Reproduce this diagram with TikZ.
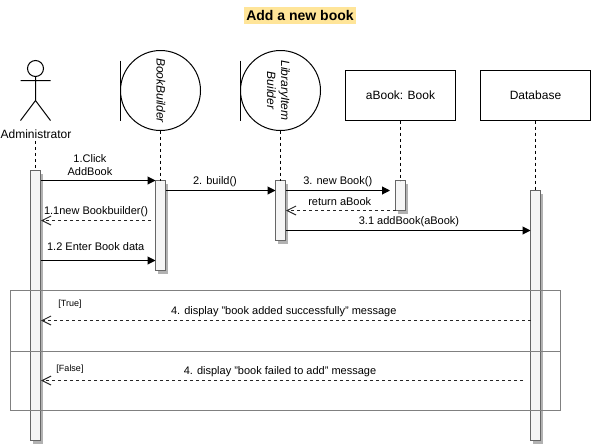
\documentclass[tikz,border=0pt]{standalone}
\usepackage{fontspec}
\setmainfont{Liberation Sans}
\usetikzlibrary{arrows.meta,shadows}
\definecolor{barfill}{HTML}{F5F5F5}
\definecolor{barline}{HTML}{666666}
\definecolor{titlebg}{HTML}{FFE599}
\definecolor{framecol}{HTML}{808080}
\tikzset{
  boundary/.style={circle,draw,minimum size=80pt,inner sep=0pt,outer sep=0pt},
  classbox/.style={rectangle,draw,minimum width=110pt,minimum height=50pt,outer sep=0pt,font=\fontsize{12}{14}\selectfont},
  bar/.style={rectangle,draw=barline,fill=barfill,minimum width=10pt,minimum height=#1,inner sep=0pt,outer sep=0pt,anchor=north,
    drop shadow={shadow xshift=2pt,shadow yshift=-3pt,fill=black!30,opacity=1}},
  lifeline/.style={dash pattern=on 3pt off 3pt},
  msg/.style={-{Triangle[length=8pt,width=8pt]}},
  reply/.style={-{Straight Barb[length=9pt,width=9pt]},dash pattern=on 3pt off 3pt,color=black!85},
  msgtext/.style={font=\fontsize{11}{13}\selectfont,inner sep=3pt,align=center,above},
  guard/.style={font=\fontsize{9}{11}\selectfont,inner sep=0pt},
  frag/.style={rectangle,draw=framecol,minimum width=550pt,inner sep=0pt,outer sep=0pt,anchor=north west}
}
\begin{document}
\begin{tikzpicture}[x=1pt,y=-1pt,line width=1pt]
   \useasboundingbox (0,0) rectangle (592,445);
   \node[fill=titlebg,minimum width=112pt,minimum height=17pt,inner sep=0pt,font=\fontsize{14}{16}\selectfont\bfseries] (title) at (300,15.5) {Add a new book};

   % lifeline heads
   \node[circle,draw,minimum size=16pt,inner sep=0pt,outer sep=0pt] (head) at (35.5,68.5) {};
   \coordinate (hip) at (35.5,100.5);
   \coordinate (armL) at (20.5,80.5);
   \coordinate (armR) at (50.5,80.5);
   \coordinate (footL) at (20.5,120.5);
   \coordinate (footR) at (50.5,120.5);
   \draw (head.south) -- (hip) (armL) -- (armR) (footL) -- (hip) -- (footR);
   \node[font=\fontsize{12}{14}\selectfont,inner sep=0pt] (admin) at (36,134) {Administrator};

   \node[boundary] (builder) at (160.5,90.5) {};
   \node[rotate=-90,align=center,inner sep=0pt,font=\fontsize{12}{14}\selectfont\itshape] (buildertext) at (161,90.5) {BookBuilder};
   \coordinate (builderT) at (120.5,60.5);
   \coordinate (builderB) at (120.5,120.5);
   \draw (builderT) -- (builderB);

   \node[boundary] (item) at (280.5,90.5) {};
   \node[rotate=-90,align=center,inner sep=0pt,font=\fontsize{12}{14}\selectfont\itshape] (itemtext) at (278.5,90.5) {LibraryItem\\Builder};
   \coordinate (itemT) at (240.5,60.5);
   \coordinate (itemB) at (240.5,120.5);
   \draw (itemT) -- (itemB);

   \node[classbox] (book) at (400.5,95.5) {aBook: Book};
   \node[classbox] (db) at (535.5,95.5) {Database};

   % activation bars
   \node[bar=270pt] (adminbar) at (35.5,170.5) {};
   \node[bar=90pt] (builderbar) at (160.5,180.5) {};
   \node[bar=60pt] (itembar) at (280.5,180.5) {};
   \node[bar=30pt] (bookbar) at (400.5,180.5) {};
   \node[bar=250pt] (dbbar) at (535.5,190.5) {};

   \draw[lifeline] (admin.south) ++(-0.5,2) -- (adminbar.north);
   \draw[lifeline] (builder.south) -- (builderbar.north);
   \draw[lifeline] (item.south) -- (itembar.north);
   \draw[lifeline] (book.south) -- (bookbar.north);
   \draw[lifeline] (db.south) -- (dbbar.north);

   % message ends
   \coordinate (m1a) at (40.5,180.5);
   \coordinate (m1b) at (155.5,180.5);
   \coordinate (m11a) at (151,220.5);
   \coordinate (m11b) at (41,220.5);
   \coordinate (m12a) at (40.5,260.5);
   \coordinate (m12b) at (155.5,260.5);
   \coordinate (m2a) at (165.5,190.5);
   \coordinate (m2b) at (275.5,190.5);
   \coordinate (m3a) at (285.5,190.5);
   \coordinate (m3b) at (390,190.5);
   \coordinate (m3ra) at (395.5,210.5);
   \coordinate (m3rb) at (286,210.5);
   \coordinate (m31a) at (285.5,230.5);
   \coordinate (m31b) at (530.5,230.5);
   \coordinate (m4a) at (530.5,320.5);
   \coordinate (m4b) at (41,320.5);
   \coordinate (m5a) at (523,380.5);
   \coordinate (m5b) at (41,380.5);

   \path[msg]
    (m1a) edge node[msgtext,pos=0.43,yshift=1.5pt] {1.Click\\AddBook} (m1b)
    (m12a) edge node[msgtext,pos=0.48,yshift=6pt] {1.2 Enter Book data} (m12b)
    (m2a) edge node[msgtext,pos=0.45] {2. build()} (m2b)
    (m3a) edge node[msgtext,pos=0.5] {3. new Book()} (m3b)
    (m31a) edge node[msgtext,pos=0.5,xshift=1pt] {3.1 addBook(aBook)} (m31b);
   \path[reply]
    (m11a) edge node[msgtext,pos=0.5,text=black] {1.1new Bookbuilder()} (m11b)
    (m3ra) edge node[msgtext,pos=0.5,text=black,xshift=-1pt,yshift=1pt] {return aBook} (m3rb)
    (m4a) edge node[msgtext,pos=0.5,text=black,xshift=-2pt] {4. display "book added successfully" message} (m4b)
    (m5a) edge node[msgtext,pos=0.5,text=black,xshift=-2pt] {4. display "book failed to add" message} (m5b);

   % alt fragments
   \node[frag,minimum height=61pt] (fragtrue) at (10.5,290.5) {};
   \node[frag,minimum height=59pt] (fragfalse) at (10.5,351.5) {};
   \node[guard] (guardtrue) at (70,304) {[True]};
   \node[guard] (guardfalse) at (70,369) {[False]};
\end{tikzpicture}
\end{document}
